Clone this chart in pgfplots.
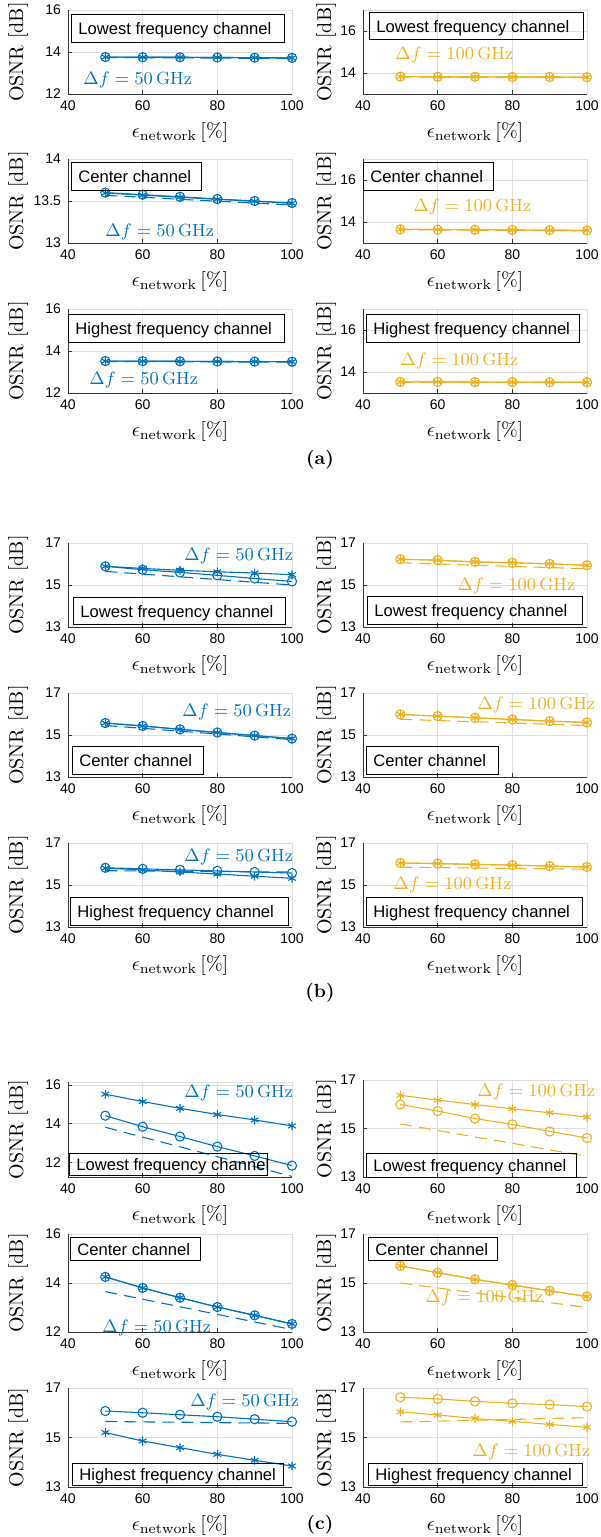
\documentclass[border=0pt]{standalone}
\usepackage{pgfplots}
\pgfplotsset{compat=1.18}
\usepackage{fontspec}
\newfontfamily\hv{Liberation Sans}
\definecolor{mblue}{rgb}{0,0.447,0.741}
\definecolor{myel}{rgb}{0.929,0.694,0.125}
\pgfplotsset{
 panel/.style={scale only axis, width=112pt, height=42pt, anchor=north west,
   xmin=40, xmax=100, xtick={40,60,80,100},
   grid=major, major grid style={draw=black!13, line width=0.4pt},
   axis line style={draw=black!13, line width=0.4pt},
   xtick pos=bottom, ytick pos=left,
   tick align=inside, major tick length=2pt,
   tick style={draw=black!80, line width=0.4pt},
   ticklabel style={font=\hv\fontsize{7}{8}\selectfont},
   /pgf/number format/assume math mode=true,
   xlabel={$\epsilon_{\mathrm{network}}\left[\%\right]$},
   ylabel={OSNR [dB]},
   label style={font=\fontsize{8.75}{10}\selectfont},
   every axis x label/.style={at={(axis description cs:0.5,0)}, anchor=center, yshift=-19pt},
   after end axis/.code={\draw[black!80, line width=0.45pt] (rel axis cs:0,1) -- (rel axis cs:0,0) -- (rel axis cs:1,0);},
 },
 lcol/.style={panel, every axis y label/.style={at={(axis description cs:-0.2232,0.5)}, anchor=center, rotate=90}},
 rcol/.style={panel, every axis y label/.style={at={(axis description cs:-0.165,0.5)}, anchor=center, rotate=90}},
 circ/.style={line width=0.55pt, mark=o, mark size=2.3pt, mark options={solid, line width=0.55pt}},
 star/.style={line width=0.55pt, mark=asterisk, mark size=2.2pt, mark options={solid, line width=0.55pt}},
 dsh/.style={line width=0.55pt, dash pattern=on 6pt off 3.5pt, mark=none},
}
\newcommand\tbox[5]{%
 \draw[black, line width=0.5pt] (#1,#2) rectangle (#3,#4);
 \node[anchor=base west, inner sep=0pt, font=\hv\fontsize{8.3}{10}\selectfont] at ({#1+7},{(#2+#4)/2+6.5}) {#5};}
\newcommand\dfb[3]{\node[anchor=west, inner sep=0pt, text=#1, font=\fontsize{8.8}{10}\selectfont] at (#2) {$\Delta f = #3\,\mathrm{GHz}$};}
\begin{document}
\begin{tikzpicture}
\path[use as bounding box] (0,0) rectangle (300pt,-768.5pt);
% ===================== (a) =====================
\begin{axis}[lcol, at={(34pt,-5pt)}, ymin=12, ymax=16, ytick={12,14,16}]
\addplot[mblue, dsh] coordinates {(50,13.74)(60,13.73)(70,13.72)(80,13.71)(90,13.70)(100,13.69)};
\addplot[mblue, circ] coordinates {(50,13.76)(60,13.75)(70,13.75)(80,13.74)(90,13.73)(100,13.72)};
\addplot[mblue, star] coordinates {(50,13.76)(60,13.75)(70,13.75)(80,13.74)(90,13.73)(100,13.72)};
\end{axis}
\begin{axis}[rcol, at={(181.5pt,-5pt)}, ymin=13, ymax=17, ytick={14,16}]
\addplot[myel, dsh] coordinates {(50,13.81)(60,13.80)(70,13.80)(80,13.79)(90,13.79)(100,13.78)};
\addplot[myel, circ] coordinates {(50,13.83)(60,13.82)(70,13.82)(80,13.81)(90,13.81)(100,13.80)};
\addplot[myel, star] coordinates {(50,13.83)(60,13.82)(70,13.82)(80,13.81)(90,13.81)(100,13.80)};
\end{axis}
\begin{axis}[lcol, at={(34pt,-79.5pt)}, ymin=13, ymax=14, ytick={13,13.5,14}]
\addplot[mblue, dsh] coordinates {(50,13.567)(60,13.545)(70,13.52)(80,13.498)(90,13.475)(100,13.453)};
\addplot[mblue, circ] coordinates {(50,13.60)(60,13.575)(70,13.55)(80,13.524)(90,13.50)(100,13.476)};
\addplot[mblue, star] coordinates {(50,13.595)(60,13.57)(70,13.545)(80,13.52)(90,13.497)(100,13.473)};
\end{axis}
\begin{axis}[rcol, at={(181.5pt,-79.5pt)}, ymin=13, ymax=17, ytick={14,16}]
\addplot[myel, dsh] coordinates {(50,13.63)(60,13.62)(70,13.61)(80,13.60)(90,13.59)(100,13.58)};
\addplot[myel, circ] coordinates {(50,13.65)(60,13.64)(70,13.63)(80,13.62)(90,13.61)(100,13.60)};
\addplot[myel, star] coordinates {(50,13.65)(60,13.64)(70,13.63)(80,13.62)(90,13.61)(100,13.60)};
\end{axis}
\begin{axis}[lcol, at={(34pt,-154.5pt)}, ymin=12, ymax=16, ytick={12,14,16}]
\addplot[mblue, dsh] coordinates {(50,13.50)(60,13.495)(70,13.49)(80,13.48)(90,13.475)(100,13.47)};
\addplot[mblue, circ] coordinates {(50,13.52)(60,13.515)(70,13.51)(80,13.50)(90,13.495)(100,13.49)};
\addplot[mblue, star] coordinates {(50,13.52)(60,13.515)(70,13.51)(80,13.50)(90,13.495)(100,13.49)};
\end{axis}
\begin{axis}[rcol, at={(181.5pt,-154.5pt)}, ymin=13, ymax=17, ytick={14,16}]
\addplot[myel, dsh] coordinates {(50,13.51)(60,13.505)(70,13.50)(80,13.50)(90,13.495)(100,13.49)};
\addplot[myel, circ] coordinates {(50,13.53)(60,13.53)(70,13.52)(80,13.52)(90,13.51)(100,13.51)};
\addplot[myel, star] coordinates {(50,13.53)(60,13.53)(70,13.52)(80,13.52)(90,13.51)(100,13.51)};
\end{axis}
% ===================== (b) =====================
\begin{axis}[lcol, at={(34pt,-271.5pt)}, ymin=13, ymax=17, ytick={13,15,17}]
\addplot[mblue, dsh] coordinates {(50,15.65)(60,15.52)(70,15.39)(80,15.26)(90,15.13)(100,15.0)};
\addplot[mblue, circ] coordinates {(50,15.89)(60,15.73)(70,15.60)(80,15.46)(90,15.31)(100,15.17)};
\addplot[mblue, star] coordinates {(50,15.89)(60,15.79)(70,15.70)(80,15.63)(90,15.57)(100,15.49)};
\end{axis}
\begin{axis}[rcol, at={(181.5pt,-271.5pt)}, ymin=13, ymax=17, ytick={13,15,17}]
\addplot[myel, dsh] coordinates {(50,16.06)(60,16.0)(70,15.94)(80,15.89)(90,15.83)(100,15.77)};
\addplot[myel, circ] coordinates {(50,16.23)(60,16.18)(70,16.10)(80,16.06)(90,16.01)(100,15.94)};
\addplot[myel, star] coordinates {(50,16.23)(60,16.18)(70,16.10)(80,16.06)(90,16.01)(100,15.94)};
\end{axis}
\begin{axis}[lcol, at={(34pt,-346.5pt)}, ymin=13, ymax=17, ytick={13,15,17}]
\addplot[mblue, dsh] coordinates {(50,15.45)(60,15.32)(70,15.18)(80,15.05)(90,14.91)(100,14.78)};
\addplot[mblue, circ] coordinates {(50,15.57)(60,15.43)(70,15.27)(80,15.12)(90,14.97)(100,14.83)};
\addplot[mblue, star] coordinates {(50,15.57)(60,15.43)(70,15.27)(80,15.12)(90,14.97)(100,14.83)};
\end{axis}
\begin{axis}[rcol, at={(181.5pt,-346.5pt)}, ymin=13, ymax=17, ytick={13,15,17}]
\addplot[myel, dsh] coordinates {(50,15.75)(60,15.69)(70,15.63)(80,15.57)(90,15.51)(100,15.45)};
\addplot[myel, circ] coordinates {(50,15.98)(60,15.9)(70,15.82)(80,15.74)(90,15.66)(100,15.6)};
\addplot[myel, star] coordinates {(50,15.98)(60,15.9)(70,15.82)(80,15.74)(90,15.66)(100,15.6)};
\end{axis}
\begin{axis}[lcol, at={(34pt,-421.5pt)}, ymin=13, ymax=17, ytick={13,15,17}]
\addplot[mblue, dsh] coordinates {(50,15.68)(60,15.67)(70,15.66)(80,15.64)(90,15.63)(100,15.62)};
\addplot[mblue, circ] coordinates {(50,15.82)(60,15.77)(70,15.72)(80,15.67)(90,15.62)(100,15.57)};
\addplot[mblue, star] coordinates {(50,15.80)(60,15.72)(70,15.62)(80,15.52)(90,15.42)(100,15.32)};
\end{axis}
\begin{axis}[rcol, at={(181.5pt,-421.5pt)}, ymin=13, ymax=17, ytick={13,15,17}]
\addplot[myel, dsh] coordinates {(50,15.85)(60,15.83)(70,15.81)(80,15.79)(90,15.77)(100,15.75)};
\addplot[myel, circ] coordinates {(50,16.05)(60,16.02)(70,15.98)(80,15.95)(90,15.9)(100,15.86)};
\addplot[myel, star] coordinates {(50,16.05)(60,16.02)(70,15.98)(80,15.95)(90,15.9)(100,15.86)};
\end{axis}
% ===================== (c) =====================
\begin{axis}[lcol, at={(34pt,-541pt)}, height=47.5pt, ymin=11.24, ymax=16.15, ytick={12,14,16}]
\addplot[mblue, dsh] coordinates {(50,13.81)(60,13.30)(70,12.80)(80,12.29)(90,11.78)(100,11.27)};
\addplot[mblue, circ] coordinates {(50,14.41)(60,13.84)(70,13.33)(80,12.81)(90,12.33)(100,11.83)};
\addplot[mblue, star] coordinates {(50,15.52)(60,15.14)(70,14.79)(80,14.47)(90,14.19)(100,13.88)};
\end{axis}
\begin{axis}[rcol, at={(181.5pt,-540pt)}, height=48.5pt, ymin=13, ymax=17, ytick={13,15,17}]
\addplot[myel, dsh] coordinates {(50,15.19)(60,14.92)(70,14.65)(80,14.39)(90,14.12)(100,13.85)};
\addplot[myel, circ] coordinates {(50,15.99)(60,15.72)(70,15.41)(80,15.17)(90,14.88)(100,14.61)};
\addplot[myel, star] coordinates {(50,16.37)(60,16.17)(70,15.99)(80,15.81)(90,15.65)(100,15.47)};
\end{axis}
\begin{axis}[lcol, at={(34pt,-617pt)}, height=49pt, ymin=12, ymax=16, ytick={12,14,16}]
\addplot[mblue, dsh] coordinates {(50,13.65)(60,13.34)(70,13.03)(80,12.72)(90,12.41)(100,12.1)};
\addplot[mblue, circ] coordinates {(50,14.25)(60,13.8)(70,13.4)(80,13.02)(90,12.68)(100,12.33)};
\addplot[mblue, star] coordinates {(50,14.25)(60,13.8)(70,13.4)(80,13.02)(90,12.68)(100,12.33)};
\end{axis}
\begin{axis}[rcol, at={(181.5pt,-617pt)}, height=49pt, ymin=13, ymax=17, ytick={13,15,17}]
\addplot[myel, dsh] coordinates {(50,15.0)(60,14.8)(70,14.6)(80,14.4)(90,14.2)(100,14.0)};
\addplot[myel, circ] coordinates {(50,15.7)(60,15.42)(70,15.15)(80,14.92)(90,14.68)(100,14.45)};
\addplot[myel, star] coordinates {(50,15.7)(60,15.42)(70,15.15)(80,14.92)(90,14.68)(100,14.45)};
\end{axis}
\begin{axis}[lcol, at={(34pt,-694pt)}, height=49.5pt, ymin=13, ymax=17, ytick={13,15,17}]
\addplot[mblue, dsh] coordinates {(50,15.65)(60,15.63)(70,15.62)(80,15.60)(90,15.59)(100,15.57)};
\addplot[mblue, circ] coordinates {(50,16.07)(60,16.0)(70,15.92)(80,15.84)(90,15.74)(100,15.64)};
\addplot[mblue, star] coordinates {(50,15.2)(60,14.86)(70,14.59)(80,14.32)(90,14.08)(100,13.85)};
\end{axis}
\begin{axis}[rcol, at={(181.5pt,-694pt)}, height=49.5pt, ymin=13, ymax=17, ytick={13,15,17}]
\addplot[myel, dsh] coordinates {(50,15.63)(60,15.66)(70,15.70)(80,15.73)(90,15.77)(100,15.80)};
\addplot[myel, circ] coordinates {(50,16.63)(60,16.56)(70,16.46)(80,16.38)(90,16.33)(100,16.25)};
\addplot[myel, star] coordinates {(50,16.04)(60,15.91)(70,15.77)(80,15.65)(90,15.53)(100,15.41)};
\end{axis}
% ===================== annotations (pixel frame) =====================
\begin{scope}[x=0.5pt, y=-0.5pt]
\tbox{71}{14}{284}{42}{Lowest frequency channel}
\tbox{369}{12}{583}{39}{Lowest frequency channel}
\tbox{71}{162}{201}{190}{Center channel}
\tbox{363}{162}{493}{190}{Center channel}
\tbox{68}{314}{284}{342}{Highest frequency channel}
\tbox{366}{314}{579}{342}{Highest frequency channel}
\tbox{73}{597}{285}{624}{Lowest frequency channel}
\tbox{367}{596}{582}{624}{Lowest frequency channel}
\tbox{72}{746}{203}{774}{Center channel}
\tbox{366}{746}{498}{774}{Center channel}
\tbox{70}{897}{288}{925}{Highest frequency channel}
\tbox{366}{897}{582}{925}{Highest frequency channel}
\tbox{69}{1153}{267}{1175}{Lowest frequency channel}
\tbox{366}{1153}{576}{1177}{Lowest frequency channel}
\tbox{70}{1237}{200}{1260}{Center channel}
\tbox{368}{1237}{497}{1260}{Center channel}
\tbox{72}{1463}{283}{1485}{Highest frequency channel}
\tbox{368}{1463}{582}{1485}{Highest frequency channel}
\dfb{mblue}{83,80}{50}
\dfb{myel}{395,55}{100}
\dfb{mblue}{105,232}{50}
\dfb{myel}{413,207}{100}
\dfb{mblue}{89,380}{50}
\dfb{myel}{400,361}{100}
\dfb{mblue}{184,556}{50}
\dfb{myel}{457,586}{100}
\dfb{mblue}{182,712}{50}
\dfb{myel}{477,705}{100}
\dfb{mblue}{184,857}{50}
\dfb{myel}{393,885}{100}
\dfb{mblue}{184,1093}{50}
\dfb{myel}{477,1092}{100}
\dfb{mblue}{102,1328}{50}
\dfb{myel}{425,1298}{100}
\dfb{mblue}{190,1402}{50}
\dfb{myel}{472,1452}{100}
\node[font=\bfseries\fontsize{9.5}{11}\selectfont] at (320,460) {(a)};
\node[font=\bfseries\fontsize{9.5}{11}\selectfont] at (320,993) {(b)};
\node[font=\bfseries\fontsize{9.5}{11}\selectfont] at (320,1525) {(c)};
\end{scope}
\end{tikzpicture}
\end{document}
